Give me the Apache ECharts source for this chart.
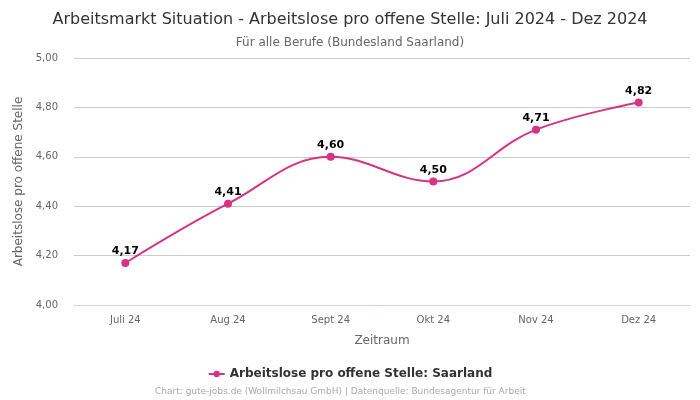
<!DOCTYPE html>
<html>
<head>
<meta charset="utf-8">
<script src="https://cdn.jsdelivr.net/npm/echarts@6/dist/echarts.min.js"></script>
<style>
  html, body { margin: 0; padding: 0; background: #fff; }
  #chart { width: 700px; height: 400px; }
</style>
</head>
<body>
<div id="chart"></div>
<script>
// Daten
const categories = ["Juli 24", "Aug 24", "Sept 24", "Okt 24", "Nov 24", "Dez 24"];
const values = [4.17, 4.41, 4.60, 4.50, 4.71, 4.82];
const seriesName = "Arbeitslose pro offene Stelle: Saarland";

const fmt = (v) => v.toFixed(2).replace(".", ",");
const lineColor = "#d63384";

const chart = echarts.init(document.getElementById("chart"));
chart.setOption({
  textStyle: { fontFamily: "DejaVu Sans" },
  title: [
    {
      text: "Arbeitsmarkt Situation - Arbeitslose pro offene Stelle: Juli 2024 - Dez 2024",
      left: "center",
      top: 7,
      textStyle: { fontSize: 16, fontWeight: "normal", color: "#333" },
    },
    {
      text: "Für alle Berufe (Bundesland Saarland)",
      left: "center",
      top: 32,
      textStyle: { fontSize: 12, fontWeight: "normal", color: "#666" },
    },
    {
      text: "Chart: gute-jobs.de (Wollmilchsau GmbH) | Datenquelle: Bundesagentur für Arbeit",
      left: 150,
      top: 382,
      textStyle: { fontSize: 9, fontWeight: "normal", color: "#aaa" },
    },
  ],
  legend: {
    data: [seriesName],
    top: 363,
    left: "center",
    itemWidth: 16,
    itemHeight: 8,
    textStyle: { fontSize: 12, fontWeight: "bold", color: "#333" },
  },
  grid: { left: 74, right: 10, top: 58, bottom: 95 },
  xAxis: {
    type: "category",
    data: categories,
    name: "Zeitraum",
    nameLocation: "middle",
    nameGap: 30,
    nameTextStyle: { fontSize: 12, color: "#666" },
    axisLine: { lineStyle: { color: "#ccd6eb" } },
    axisTick: { show: false },
    axisLabel: { fontSize: 10, color: "#666", margin: 10 },
  },
  yAxis: {
    type: "value",
    min: 4.0,
    max: 5.0,
    interval: 0.2,
    name: "Arbeitslose pro offene Stelle",
    nameLocation: "middle",
    nameGap: 48,
    nameTextStyle: { fontSize: 12, color: "#666" },
    axisLabel: { fontSize: 10, color: "#666", margin: 16, formatter: (v) => fmt(v) },
    splitLine: { lineStyle: { color: "#ccc" } },
  },
  series: [
    {
      name: seriesName,
      type: "line",
      data: values,
      smooth: 0.4,
      symbol: "circle",
      symbolSize: 8,
      lineStyle: { color: lineColor, width: 2 },
      itemStyle: { color: lineColor },
      label: {
        show: true,
        position: "top",
        distance: 2,
        fontSize: 11,
        fontWeight: "bold",
        color: "#000",
        formatter: (p) => fmt(p.value),
      },
    },
  ],
});
</script>
</body>
</html>
